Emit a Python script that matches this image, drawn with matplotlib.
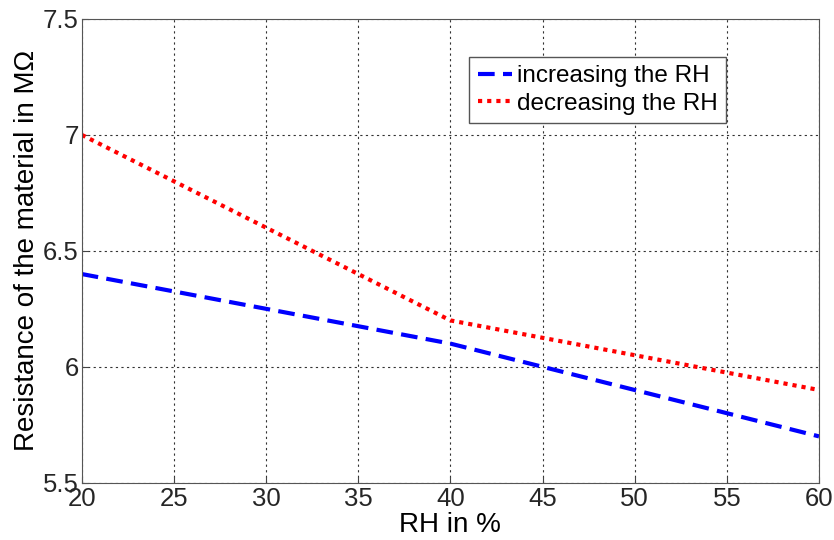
import matplotlib
matplotlib.use("Agg")
from matplotlib import pyplot as plt

rh = [20, 40, 60]
increasing = [6.4, 6.1, 5.7]
decreasing = [7.0, 6.2, 5.9]
x_ticks = [20, 25, 30, 35, 40, 45, 50, 55, 60]
y_ticks = [5.5, 6, 6.5, 7, 7.5]
y_labels = ["5.5", "6", "6.5", "7", "7.5"]

plt.rcParams["font.family"] = ["Liberation Sans", "DejaVu Sans"]

fig = plt.figure(figsize=(8.34, 5.4), dpi=100)
ax = fig.add_axes([0.098, 0.106, 0.884, 0.859])

ax.plot(rh, increasing, color="#0000ff", linestyle=(0, (4, 2)), linewidth=3, label="increasing the RH")
ax.plot(rh, decreasing, color="#ff0000", linestyle=(0, (1, 1.2)), linewidth=3, label="decreasing the RH")

ax.set_xlim(20, 60)
ax.set_ylim(5.5, 7.5)
ax.set_xticks(x_ticks)
ax.set_yticks(y_ticks)
ax.set_yticklabels(y_labels)
ax.tick_params(labelsize=18.5, direction="in", length=4, color="#444444", labelcolor="#262626")
ax.tick_params(axis="x", pad=3)
ax.tick_params(axis="y", pad=2)
ax.grid(True, color="#333333", linestyle=(0, (2, 3)), linewidth=0.8)
for s in ax.spines.values():
    s.set_color("#555555")

ax.set_xlabel("RH in %", fontsize=20, labelpad=1)
ax.set_ylabel("Resistance of the material in M\u03a9", fontsize=20, labelpad=2)

leg = ax.legend(loc="upper right", bbox_to_anchor=(0.874, 0.918), fontsize=17.5, fancybox=False,
                framealpha=1, edgecolor="#555555", handlelength=1.4, handletextpad=0.2,
                borderpad=0.35, labelspacing=0.22, borderaxespad=0)
leg.get_frame().set_linewidth(1)

fig.savefig("out.png", dpi=100)
